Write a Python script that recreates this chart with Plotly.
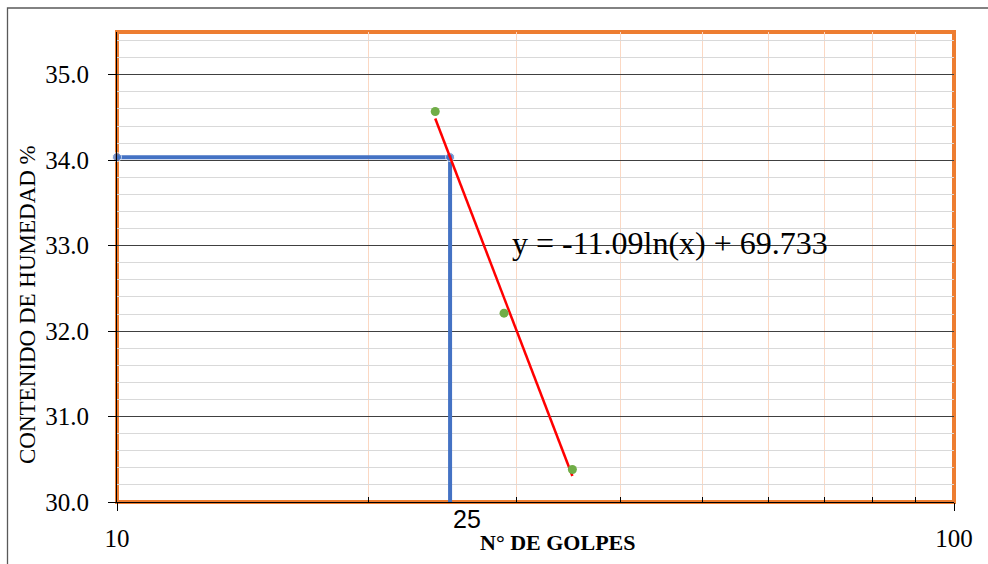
import math
import plotly.graph_objects as go

# Ensayo de límite líquido (Casagrande)
golpes = [24, 29, 35]
humedad = [34.57, 32.21, 30.38]

# Línea de tendencia logarítmica: w = a*ln(N) + b
pendiente = -11.09
intercepto = 69.733
n_referencia = 25

y_ticks = [30, 31, 32, 33, 34, 35]
x_ticks = [10, 100]
x_minor = [20, 30, 40, 50, 60, 70, 80, 90]

serif = "Liberation Serif"
sans = "Liberation Sans"


def tendencia(n):
    return pendiente * math.log(n) + intercepto


w_ref = tendencia(n_referencia)
trend_x = [golpes[0], golpes[-1]]
trend_y = [tendencia(v) for v in trend_x]

fig = go.Figure()

# Recta de referencia a 25 golpes
fig.add_trace(go.Scatter(
    x=[x_ticks[0], n_referencia, n_referencia],
    y=[w_ref, w_ref, y_ticks[0]],
    mode="lines+markers",
    line=dict(color="#4472C4", width=4),
    marker=dict(color="#4472C4", size=[9, 9, 0]),
    cliponaxis=False,
    hoverinfo="skip",
))

# Tendencia
fig.add_trace(go.Scatter(
    x=trend_x, y=trend_y, mode="lines",
    line=dict(color="#FF0000", width=2.5),
    hoverinfo="skip",
))

# Puntos del ensayo
fig.add_trace(go.Scatter(
    x=golpes, y=humedad, mode="markers",
    marker=dict(color="#70AD47", size=9),
))

L, R, T, B = 117, 34, 32, 62
W, H = 988, 564
pw, ph = W - L - R, H - T - B

fig.update_layout(
    width=W, height=H,
    margin=dict(l=L, r=R, t=T, b=B),
    paper_bgcolor="white", plot_bgcolor="white",
    showlegend=False,
    xaxis=dict(
        type="log", range=[1, 2],
        tickvals=x_ticks, ticktext=[str(v) for v in x_ticks],
        ticks="outside", ticklen=8, tickcolor="black", tickwidth=1,
        showgrid=False, zeroline=False,
        showline=True, linecolor="black", linewidth=1,
        tickfont=dict(family=serif, size=25, color="black"),
        ticklabelstandoff=6,
        minor=dict(tickmode="array", tickvals=x_minor, ticks="inside", ticklen=5,
                   tickcolor="black", showgrid=True, gridcolor="#FBD8C3", gridwidth=1),
    ),
    yaxis=dict(
        range=[30, 35.5],
        tickvals=y_ticks, ticktext=[f"{v:.1f}" for v in y_ticks],
        ticks="outside", ticklen=8, tickcolor="black", tickwidth=1,
        showgrid=True, gridcolor="#404040", gridwidth=1, zeroline=False,
        showline=True, linecolor="black", linewidth=1,
        tickfont=dict(family=serif, size=25, color="black"),
        ticklabelstandoff=14,
        minor=dict(dtick=0.2, tick0=30, showgrid=True, gridcolor="#D9D9D9", gridwidth=1.3, ticks=""),
    ),
    shapes=[
        # marco del área de trazado
        dict(type="rect", xref="paper", yref="paper", x0=0, x1=1, y0=0, y1=1,
             line=dict(color="#ED7D31", width=4), layer="below"),
        # borde exterior del gráfico
        dict(type="rect", xref="paper", yref="paper",
             x0=(7.5 - L) / pw, x1=(W + 5 - L) / pw,
             y0=-(H + 5 - (T + ph)) / ph, y1=1 + (T - 8) / ph,
             line=dict(color="#595959", width=1.3)),
    ],
    annotations=[
        dict(x=math.log10(n_referencia), xref="x", y=0, yref="paper",
             text=str(n_referencia), showarrow=False, xanchor="left", yanchor="middle",
             xshift=1, yshift=-17, font=dict(family=sans, size=25, color="black")),
        dict(x=(670 - L) / pw, xref="paper", y=(T + ph - 243) / ph, yref="paper",
             text=f"y = {pendiente}ln(x) + {intercepto}", showarrow=False,
             xanchor="center", yanchor="middle",
             font=dict(family=serif, size=32, color="black")),
        dict(x=(558 - L) / pw, xref="paper", y=0, yref="paper",
             text="<b>N° DE GOLPES</b>", showarrow=False, xanchor="center", yanchor="middle",
             yshift=-40.5, font=dict(family=serif, size=22, color="black")),
        dict(x=(27 - L) / pw, xref="paper", y=(T + ph - 305) / ph, yref="paper",
             text="CONTENIDO DE HUMEDAD %", showarrow=False, textangle=-90,
             xanchor="center", yanchor="middle",
             font=dict(family=serif, size=23, color="black")),
    ],
)

fig.write_html("out.html")
